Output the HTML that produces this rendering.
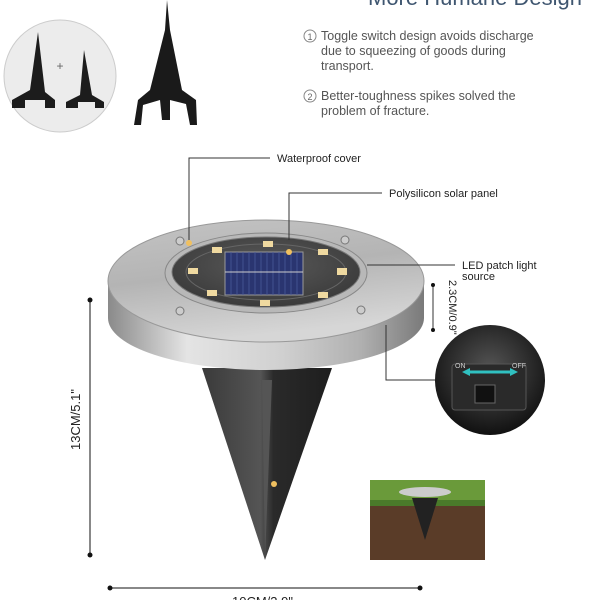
<!DOCTYPE html>
<html><head><meta charset="utf-8"><style>
html,body{margin:0;padding:0;background:#fff;width:600px;height:600px;overflow:hidden}
svg{display:block}
text{font-family:"Liberation Sans",sans-serif}
</style></head><body>
<svg width="600" height="600" viewBox="0 0 600 600" xmlns="http://www.w3.org/2000/svg">
<defs>
<linearGradient id="rim" x1="0" x2="1" y1="0" y2="0">
<stop offset="0" stop-color="#8a8a8a"/><stop offset="0.25" stop-color="#e4e4e4"/><stop offset="0.55" stop-color="#d0d0d0"/><stop offset="0.8" stop-color="#b0b0b0"/><stop offset="1" stop-color="#7a7a7a"/></linearGradient>
<linearGradient id="top" x1="0" x2="0.3" y1="0" y2="1">
<stop offset="0" stop-color="#c4c4c4"/><stop offset="0.5" stop-color="#b4b4b4"/><stop offset="1" stop-color="#d6d6d6"/></linearGradient>
<radialGradient id="lens" cx="0.5" cy="0.4" r="0.6">
<stop offset="0" stop-color="#5a5a5a"/><stop offset="1" stop-color="#3a3a3a"/></radialGradient>
<radialGradient id="inset" cx="0.5" cy="0.4" r="0.6">
<stop offset="0" stop-color="#555"/><stop offset="1" stop-color="#111"/></radialGradient>
<linearGradient id="spk" x1="0" x2="1"><stop offset="0" stop-color="#3a3a3a"/><stop offset="0.45" stop-color="#555"/><stop offset="0.55" stop-color="#2a2a2a"/><stop offset="1" stop-color="#1e1e1e"/></linearGradient>
</defs>
<circle cx="60" cy="76" r="56" fill="#ececec" stroke="#ccc"/>
<path d="M38 32 L30 90 L12 100 L12 108 L25 108 L25 100 L45 100 L45 108 L55 108 L55 100 L45 92 Z" fill="#1c1c1c"/>
<path d="M84 50 L80 95 L66 102 L66 108 L78 108 L78 102 L95 102 L95 108 L104 108 L104 102 L92 95 Z" fill="#1c1c1c"/>
<text x="60" y="70" font-size="12" fill="#666" text-anchor="middle">+</text>
<path d="M167 0 L165 30 L150 90 L138 100 L134 125 L141 125 L143 105 L160 100 L162 120 L170 120 L170 100 L186 104 L190 125 L197 125 L196 100 L182 90 L170 30 Z" fill="#1a1a1a"/>
<text x="368" y="5" font-size="22" fill="#3f5670">More Humane Design</text>
<circle cx="310" cy="36" r="6" fill="none" stroke="#888"/><text x="310" y="40" font-size="9" fill="#666" text-anchor="middle">1</text>
<text x="321" y="40" font-size="12.5" fill="#555">Toggle switch design avoids discharge</text>
<text x="321" y="55" font-size="12.5" fill="#555">due to squeezing of goods during</text>
<text x="321" y="70" font-size="12.5" fill="#555">transport.</text>
<circle cx="310" cy="96" r="6" fill="none" stroke="#888"/><text x="310" y="100" font-size="9" fill="#666" text-anchor="middle">2</text>
<text x="321" y="100" font-size="12.5" fill="#555">Better-toughness spikes solved the</text>
<text x="321" y="115" font-size="12.5" fill="#555">problem of fracture.</text>
<path d="M202 368 L265 560 L332 368 Z" fill="url(#spk)"/>
<path d="M262 380 L265 560 L272 380 Z" fill="#555"/>
<path d="M108 283 L108 318 A158 52 0 0 0 424 318 L424 283 Z" fill="url(#rim)"/>
<ellipse cx="266" cy="281" rx="158" ry="61" fill="url(#top)" stroke="#999"/>
<ellipse cx="266" cy="273" rx="101" ry="40" fill="#b8b8b8" stroke="#888"/>
<ellipse cx="266" cy="272" rx="94" ry="35" fill="url(#lens)" stroke="#777"/>
<ellipse cx="266" cy="272" rx="80" ry="28" fill="none" stroke="#666"/>
<rect x="225" y="252" width="78" height="43" fill="#2a3570" stroke="#999"/>
<g stroke="#4a5a98" stroke-width="0.8">
<line x1="231" y1="252" x2="231" y2="295"/><line x1="237" y1="252" x2="237" y2="295"/><line x1="243" y1="252" x2="243" y2="295"/><line x1="249" y1="252" x2="249" y2="295"/><line x1="255" y1="252" x2="255" y2="295"/><line x1="261" y1="252" x2="261" y2="295"/><line x1="267" y1="252" x2="267" y2="295"/><line x1="273" y1="252" x2="273" y2="295"/><line x1="279" y1="252" x2="279" y2="295"/><line x1="285" y1="252" x2="285" y2="295"/><line x1="291" y1="252" x2="291" y2="295"/><line x1="297" y1="252" x2="297" y2="295"/></g>
<line x1="225" y1="272" x2="303" y2="272" stroke="#ccc" stroke-width="1"/>
<g fill="#efd9a0">
<rect x="212" y="247" width="10" height="6"/><rect x="263" y="241" width="10" height="6"/><rect x="318" y="249" width="10" height="6"/>
<rect x="337" y="268" width="10" height="7"/><rect x="318" y="292" width="10" height="6"/><rect x="260" y="300" width="10" height="6"/>
<rect x="207" y="290" width="10" height="6"/><rect x="188" y="268" width="10" height="6"/></g>
<circle cx="180" cy="241" r="4" fill="#ccc" stroke="#777"/><circle cx="345" cy="240" r="4" fill="#ccc" stroke="#777"/>
<circle cx="180" cy="311" r="4" fill="#ccc" stroke="#777"/><circle cx="361" cy="310" r="4" fill="#ccc" stroke="#777"/>
<g stroke="#333" stroke-width="1" fill="none">
<polyline points="189,240 189,158 270,158"/>
<polyline points="289,240 289,193 382,193"/>
<polyline points="367,265 455,265"/>
<polyline points="386,325 386,380 435,380"/>
<line x1="433" y1="285" x2="433" y2="330"/>
</g>
<circle cx="433" cy="285" r="2" fill="#111"/><circle cx="433" cy="330" r="2" fill="#111"/>
<circle cx="189" cy="243" r="3" fill="#f0c060"/><circle cx="289" cy="252" r="3" fill="#f0c060"/><circle cx="274" cy="484" r="3" fill="#f0c060"/>
<text x="277" y="162" font-size="11" fill="#222">Waterproof cover</text>
<text x="389" y="197" font-size="11" fill="#222">Polysilicon solar panel</text>
<text x="462" y="269" font-size="11" fill="#222">LED patch light</text>
<text x="462" y="280" font-size="11" fill="#222">source</text>
<text transform="translate(449,280) rotate(90)" font-size="11" fill="#222">2.3CM/0.9"</text>
<circle cx="490" cy="380" r="55" fill="url(#inset)"/>
<rect x="452" y="364" width="74" height="46" rx="3" fill="#2a2a2a" stroke="#555"/>
<path d="M465 372 L515 372" stroke="#30c0c0" stroke-width="3"/>
<path d="M470 368 L462 372 L470 376 Z M510 368 L518 372 L510 376 Z" fill="#30c0c0"/>
<rect x="475" y="385" width="20" height="18" fill="#111" stroke="#666"/>
<text x="455" y="368" font-size="7" fill="#ccc">ON</text><text x="512" y="368" font-size="7" fill="#ccc">OFF</text>
<rect x="370" y="480" width="115" height="80" fill="#5a3c28"/>
<rect x="370" y="480" width="115" height="24" fill="#6a9a3a"/>
<rect x="370" y="500" width="115" height="6" fill="#4a7a2a"/>
<ellipse cx="425" cy="492" rx="26" ry="5" fill="#ccc"/>
<path d="M412 498 L425 540 L438 498 Z" fill="#222"/>
<g stroke="#111" stroke-width="1">
<line x1="90" y1="300" x2="90" y2="555"/><line x1="110" y1="588" x2="420" y2="588"/></g>
<circle cx="90" cy="300" r="2.5" fill="#111"/><circle cx="90" cy="555" r="2.5" fill="#111"/>
<circle cx="110" cy="588" r="2.5" fill="#111"/><circle cx="420" cy="588" r="2.5" fill="#111"/>
<text transform="translate(80,450) rotate(-90)" font-size="13" fill="#222">13CM/5.1"</text>
<text x="232" y="606" font-size="13" fill="#222">10CM/3.9"</text>
</svg>
</body></html>
